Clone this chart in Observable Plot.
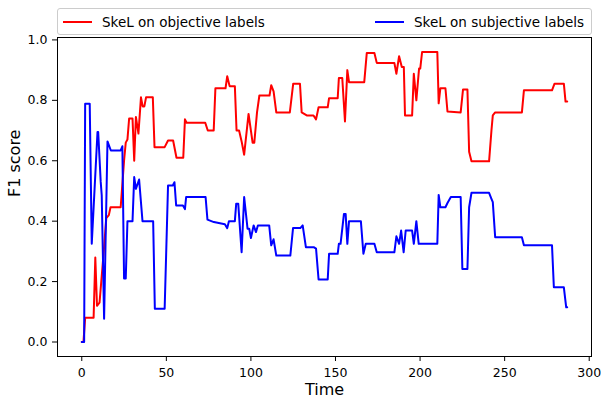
<!DOCTYPE html>
<html>
<head>
<meta charset="utf-8">
<script src="https://cdn.jsdelivr.net/npm/d3@7"></script>
<script src="https://cdn.jsdelivr.net/npm/@observablehq/plot@0.6"></script>
<style>
  html, body { margin: 0; padding: 0; background: #fff; }
  body { font-family: "DejaVu Sans", sans-serif; }
  #wrap { position: relative; width: 603px; height: 402px; overflow: hidden; }
  #legend {
    position: absolute; left: 57px; top: 8px; width: 533px; height: 25px;
    border: 1px solid #cccccc; border-radius: 3px; background: rgba(255,255,255,0.85);
    font-family: "DejaVu Sans", sans-serif; font-size: 13.5px; color: #000;
  }
  .item { position: absolute; top: 0; height: 25px; display: flex; align-items: center; white-space: nowrap; }
  .sw { width: 29px; height: 2px; margin-right: 10px; }
</style>
</head>
<body>
<div id="wrap"><div id="chart"></div><div id="legend"></div></div>
<script>
// Series names
const seriesNames = ["SkeL on objective labels", "SkeL on subjective labels"];
const seriesColors = ["red", "blue"];

// SkeL on objective labels (red): time, F1
const objTime = [0, 1, 2, 7, 8, 9, 10.5, 13, 14.5, 16, 17, 23, 25, 26, 27, 28, 30, 31, 32, 33.5, 35, 36, 37, 38, 42, 43,
  49, 51, 54, 56, 60, 61, 62, 73, 74.5, 78, 79, 85, 86, 87.4, 90.5, 91.5, 93, 94.5, 96, 98.6, 101, 102, 103.6, 105,
  111, 112, 113.4, 115, 123, 125, 129, 130, 133, 137, 138.5, 140, 145.4, 146.2, 151.3, 152, 154, 155.6, 157, 158,
  167, 168.5, 173, 174.4, 184.8, 186, 187.6, 189.2, 190.4, 191.1, 195.3, 196.3, 197.8, 199.4, 200.1, 201.2, 210.2,
  211, 212, 215, 216.2, 224, 225.4, 228, 229, 230.4, 240.8, 242.2, 243, 244.4, 260.2, 261.4, 278, 279.5, 285, 286, 287];
const objF1 = [0, 0, 0.08, 0.08, 0.28, 0.12, 0.13, 0.30, 0.41, 0.42, 0.446, 0.446, 0.60, 0.66, 0.67, 0.74, 0.74, 0.60, 0.745, 0.69, 0.81, 0.78, 0.78, 0.81, 0.81, 0.645,
  0.645, 0.667, 0.667, 0.61, 0.61, 0.737, 0.726, 0.726, 0.70, 0.70, 0.84, 0.84, 0.88, 0.847, 0.847, 0.70, 0.70, 0.664, 0.62, 0.755, 0.66, 0.66, 0.76, 0.816,
  0.816, 0.85, 0.83, 0.76, 0.76, 0.855, 0.855, 0.76, 0.75, 0.75, 0.737, 0.777, 0.777, 0.807, 0.807, 0.874, 0.874, 0.73, 0.90, 0.86,
  0.86, 0.957, 0.957, 0.924, 0.924, 0.888, 0.946, 0.91, 0.91, 0.75, 0.75, 0.888, 0.80, 0.905, 0.905, 0.96, 0.96,
  0.79, 0.84, 0.84, 0.763, 0.76, 0.836, 0.836, 0.63, 0.598, 0.598, 0.70, 0.75, 0.76, 0.76, 0.833, 0.833, 0.855, 0.855, 0.796, 0.796];

// SkeL on subjective labels (blue): time, F1
const subjTime = [0, 1.4, 2, 4.7, 5.9, 9.3, 9.7, 11.2, 11.8, 13.2, 15.2, 17.2, 23, 24, 25, 26, 27, 30, 31, 32, 33.9, 35.9, 42.2, 43.2,
  49, 51, 53.8, 54.8, 55.8, 59.8, 61, 61.7, 73.2, 74.3, 78.1, 84.6, 86, 87, 90.5, 91.3, 92.5, 94.5, 96, 98, 99, 100,
  101.6, 103, 104.1, 110.8, 112, 113.4, 115, 123.3, 124.9, 129.2, 130.6, 132.5, 137.1, 138.5, 140, 145.4, 146.2, 151.3,
  152, 153, 155, 156, 157, 158, 165, 166.5, 167.9, 173, 174.4, 184.8, 186, 187.6, 188.8, 190.3, 191.5, 195.3, 196.3,
  197.8, 199.2, 210.2, 211, 212, 215, 216.2, 218.2, 224, 225, 228, 229, 230.4, 240.8, 242.2, 243, 244.4, 260.2, 261.4,
  278, 279.1, 285, 286.4, 287];
const subjF1 = [0, 0, 0.789, 0.789, 0.325, 0.695, 0.695, 0.53, 0.485, 0.077, 0.664, 0.634, 0.634, 0.648, 0.21, 0.21, 0.40, 0.40, 0.546, 0.507, 0.538, 0.40, 0.40, 0.11,
  0.11, 0.518, 0.518, 0.529, 0.452, 0.452, 0.44, 0.48, 0.48, 0.405, 0.397, 0.39, 0.377, 0.40, 0.40, 0.458, 0.458, 0.297, 0.48, 0.375, 0.375, 0.344,
  0.386, 0.364, 0.386, 0.386, 0.32, 0.34, 0.286, 0.286, 0.377, 0.377, 0.386, 0.314, 0.314, 0.309, 0.207, 0.207, 0.292, 0.292,
  0.325, 0.325, 0.424, 0.424, 0.325, 0.40, 0.40, 0.292, 0.325, 0.325, 0.297, 0.297, 0.35, 0.325, 0.369, 0.297, 0.369, 0.369, 0.325,
  0.40, 0.325, 0.325, 0.487, 0.446, 0.446, 0.46, 0.48, 0.48, 0.242, 0.242, 0.446, 0.494, 0.494, 0.474, 0.463, 0.347, 0.347, 0.32,
  0.32, 0.181, 0.181, 0.115, 0.115];

// Axis ticks and labels
const xTicks = [0, 50, 100, 150, 200, 250, 300];
const yTicks = [0, 0.2, 0.4, 0.6, 0.8, 1.0];
const xLabel = "Time";
const yLabel = "F1 score";

const objRows = objTime.map((t, i) => ({t, v: objF1[i]}));
const subjRows = subjTime.map((t, i) => ({t, v: subjF1[i]}));

const chart = Plot.plot({
  width: 603,
  height: 402,
  marginLeft: 57,
  marginRight: 12,
  marginTop: 37,
  marginBottom: 46,
  x: {domain: [-14.35, 301.35]},
  y: {domain: [-0.048, 1.008]},
  style: {fontFamily: "DejaVu Sans", fontSize: "12.5px", color: "#000", background: "#fff"},
  marks: [
    Plot.line(objRows, {x: "t", y: "v", stroke: seriesColors[0], strokeWidth: 2}),
    Plot.line(subjRows, {x: "t", y: "v", stroke: seriesColors[1], strokeWidth: 2}),
    Plot.frame({stroke: "#000", strokeWidth: 1}),
    Plot.axisX({ticks: xTicks, tickSize: 5, tickPadding: 7, label: null, tickFormat: d => String(d), fontSize: 12.5}),
    Plot.axisY({ticks: yTicks, tickSize: 5, tickPadding: 5, label: null, tickFormat: d => d.toFixed(1), fontSize: 12.5}),
    Plot.text([xLabel], {text: d => d, frameAnchor: "bottom", dy: 27, lineAnchor: "top", fontSize: 16}),
    Plot.text([yLabel], {text: d => d, frameAnchor: "left", dx: -43, rotate: -90, fontSize: 16})
  ]
});
document.getElementById("chart").appendChild(chart);

const legend = document.getElementById("legend");
const positions = [{sw: 5}, {sw: 317}];
seriesNames.forEach((name, i) => {
  const it = document.createElement("div");
  it.className = "item";
  it.style.left = positions[i].sw + "px";
  const sw = document.createElement("span");
  sw.className = "sw";
  sw.style.background = seriesColors[i];
  const tx = document.createElement("span");
  tx.textContent = name;
  it.appendChild(sw);
  it.appendChild(tx);
  legend.appendChild(it);
});
</script>
</body>
</html>
